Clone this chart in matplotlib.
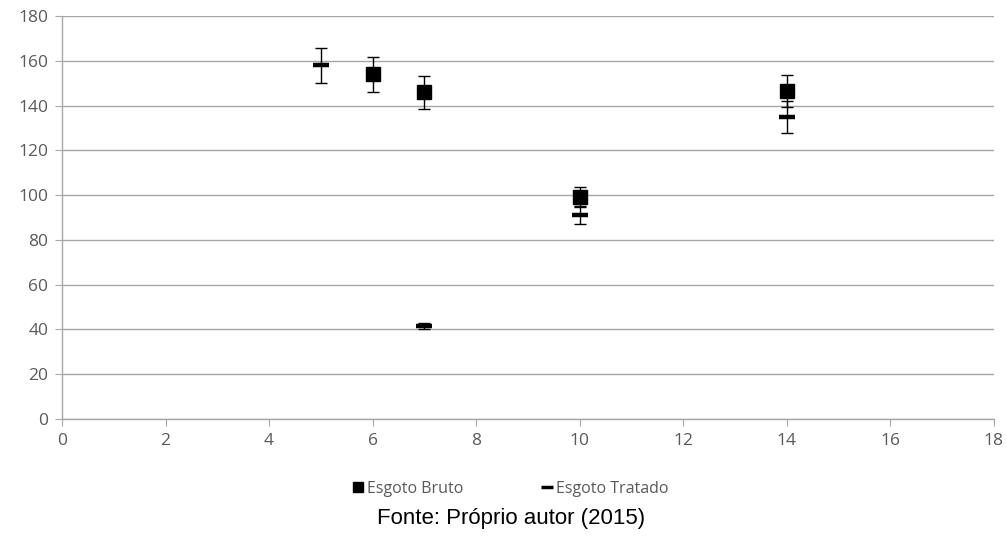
import numpy as np
import matplotlib.pyplot as plt
from matplotlib.lines import Line2D

# Esgoto Bruto
bruto_x = [6, 7, 10, 14]
bruto_y = [154, 146, 99, 146.5]
bruto_err = [7.7, 7.3, 4.5, 7.2]

# Esgoto Tratado
tratado_x = [5, 7, 10, 14]
tratado_y = [158, 41.5, 91, 135]
tratado_err = [7.8, 1.5, 4.0, 7.2]

labels = ["Esgoto Bruto", "Esgoto Tratado"]
xticks = np.arange(0, 19, 2)
yticks = np.arange(0, 181, 20)

grid_c = "#a6a6a6"
label_c = "#595959"

fig = plt.figure(figsize=(10.07, 5.36), dpi=100)
ax = fig.add_axes([0.0616, 0.2183, 0.9254, 0.7517])

# error bars first, markers on top
for xs, ys, es in [(bruto_x, bruto_y, bruto_err), (tratado_x, tratado_y, tratado_err)]:
    ax.errorbar(xs, ys, yerr=es, fmt="none", ecolor="black", elinewidth=1,
                capsize=4.3, capthick=1, zorder=3)
ax.plot(bruto_x, bruto_y, "s", color="black", markersize=10.5, zorder=4)
ax.plot(tratado_x, tratado_y, "_", color="black", markersize=11,
        markeredgewidth=3.2, zorder=4)

ax.set_xlim(0, 18)
ax.set_ylim(0, 180)
ax.set_xticks(xticks)
ax.set_yticks(yticks)
ax.yaxis.grid(True, color=grid_c, linewidth=1)
ax.set_axisbelow(True)
for s in ["top", "right"]:
    ax.spines[s].set_visible(False)
for s in ["left", "bottom"]:
    ax.spines[s].set_color(grid_c)
    ax.spines[s].set_linewidth(1)
ax.tick_params(axis="both", direction="out", length=5, color=grid_c,
               labelcolor=label_c, labelsize=12.5, pad=5)
for lab in ax.get_xticklabels() + ax.get_yticklabels():
    lab.set_family("Open Sans")

handles = [
    Line2D([], [], marker="s", color="black", linestyle="none", markersize=7),
    Line2D([], [], marker="_", color="black", linestyle="none", markersize=8,
           markeredgewidth=2.5),
]
leg = fig.legend(handles, labels, loc="center", bbox_to_anchor=(0.508, 0.088),
                 ncol=2, frameon=False, columnspacing=5.0, handlelength=0.5,
                 handletextpad=0.3, prop={"family": "Open Sans", "size": 11.5})
for t in leg.get_texts():
    t.set_color(label_c)

fig.text(0.508, 0.032, "Fonte: Próprio autor (2015)", ha="center", va="center",
         fontsize=16, family="Liberation Sans", color="black")

fig.savefig("out.png", dpi=100)
